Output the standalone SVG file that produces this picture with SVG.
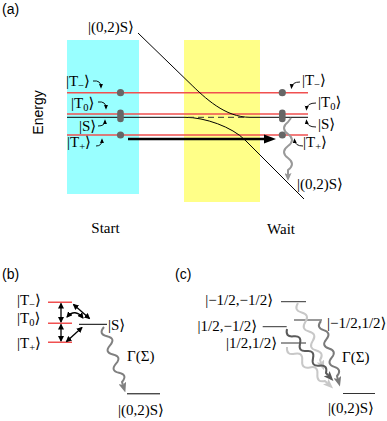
<svg xmlns="http://www.w3.org/2000/svg" width="387" height="421" viewBox="0 0 387 421">
<style>
.lbl{font-family:"Liberation Serif","DejaVu Serif",serif;font-size:15px;fill:#000}
.sans{font-family:"Liberation Sans",Arial,sans-serif;font-size:14px;fill:#000}
.sub{font-size:10.5px}
.red{stroke:#f05050;stroke-width:1.4;fill:none}
.blk{stroke:#000;stroke-width:1;fill:none}
.ptr{stroke:#000;stroke-width:0.9;fill:none;marker-end:url(#sm)}
.dbl{stroke:#000;stroke-width:1.3;fill:none;marker-start:url(#da);marker-end:url(#da)}
.dot{fill:#666}
.wave{fill:none;stroke-width:2;stroke-linejoin:round}
</style>
<defs>
<marker id="sm" markerUnits="userSpaceOnUse" markerWidth="5" markerHeight="5" viewBox="0 0 6 6" refX="4" refY="3" orient="auto"><path d="M0,0.5 L6,3 L0,5.5 z" fill="#000"/></marker>
<marker id="da" markerUnits="userSpaceOnUse" markerWidth="6" markerHeight="6" viewBox="0 0 6 6" refX="5" refY="3" orient="auto-start-reverse"><path d="M0,0 L6,3 L0,6 z" fill="#000"/></marker>
<marker id="wa" markerUnits="userSpaceOnUse" markerWidth="8" markerHeight="7" viewBox="0 0 8 7" refX="2" refY="3.5" orient="auto"><path d="M0,0 L8,3.5 L0,7 L1.5,3.5 z" fill="#999"/></marker>
<marker id="wb" markerUnits="userSpaceOnUse" markerWidth="10" markerHeight="8" viewBox="0 0 10 8" refX="2" refY="4" orient="auto"><path d="M0,0 L10,4 L0,8 L2,4 z" fill="#808080"/></marker>
<marker id="wl" markerUnits="userSpaceOnUse" markerWidth="10" markerHeight="8" viewBox="0 0 10 8" refX="2" refY="4" orient="auto"><path d="M0,0 L10,4 L0,8 L2,4 z" fill="#c8c8c8"/></marker>
<marker id="wm" markerUnits="userSpaceOnUse" markerWidth="10" markerHeight="8" viewBox="0 0 10 8" refX="2" refY="4" orient="auto"><path d="M0,0 L10,4 L0,8 L2,4 z" fill="#7a7a7a"/></marker>
<marker id="wd" markerUnits="userSpaceOnUse" markerWidth="10" markerHeight="8" viewBox="0 0 10 8" refX="2" refY="4" orient="auto"><path d="M0,0 L10,4 L0,8 L2,4 z" fill="#5a5a5a"/></marker>
</defs>
<rect width="387" height="421" fill="#fff"/>

<!-- panel (a) -->
<text class="sans" x="2" y="14" font-size="13">(a)</text>
<g id="start-region"><rect x="67" y="40" width="72" height="154" fill="#99ffff"/></g>
<g id="wait-region"><rect x="184" y="40" width="76" height="162" fill="#ffff88"/></g>
<text class="sans" font-size="15" text-anchor="middle" transform="translate(43,112.5) rotate(-90)">Energy</text>

<g id="connectors">
<path class="red" d="M67,92.7 H308 M67,114 H308 M67,135 H308"/>
<path class="blk" d="M67,117.3 L185,117.3 C205,117.3 232,127 245,140 L304,199"/>
<path class="blk" d="M138,33 L190,83.4 C205,98 225,117.3 250,117.3 L308,117.3"/>
<path d="M188,117.3 H248" stroke="#333" stroke-width="1" stroke-dasharray="6,4"/>
<path d="M128,139 H266" stroke="#000" stroke-width="2.6"/>
<path d="M264,134.5 L276,139 L264,143.5 z" fill="#000"/>
<path class="wave" stroke="#999" d="M291,118 L288,122 Q280,128 288,134 T288,146 T288,158 T288,170 L288,175" marker-end="url(#wa)"/>
<path class="ptr" d="M93,81 Q101,80 101,87"/>
<path class="ptr" d="M98,102 Q106,101 106,108"/>
<path class="ptr" d="M98,126 Q105,126 105,121"/>
<path class="ptr" d="M96,146 Q102,146 102,140"/>
<path class="ptr" d="M300,82 Q292,82 291.5,87.5"/>
<path class="ptr" d="M316,103 Q307,103 306.5,109"/>
<path class="ptr" d="M316,127 Q307,127 306.5,121"/>
<path class="ptr" d="M303,146 Q295,146 294.5,140"/>
</g>

<g id="dots-start">
<circle class="dot" cx="120.5" cy="92.7" r="3.6"/>
<rect class="dot" x="117.2" y="109.5" width="6.6" height="12.8" rx="3.3"/>
<circle class="dot" cx="120.5" cy="135" r="3.6"/>
</g>
<g id="dots-wait">
<circle class="dot" cx="282.3" cy="92.7" r="3.6"/>
<rect class="dot" x="279" y="109.5" width="6.6" height="12.8" rx="3.3"/>
<circle class="dot" cx="282.3" cy="135" r="3.6"/>
</g>

<g id="labels-a">
<text class="lbl" x="88" y="32">|(0,2)S⟩</text>
<text class="lbl" x="66" y="86">|T<tspan class="sub" dy="3">−</tspan><tspan dy="-3">⟩</tspan></text>
<text class="lbl" x="71" y="108">|T<tspan class="sub" dy="3">0</tspan><tspan dy="-3">⟩</tspan></text>
<text class="lbl" x="79" y="131">|S⟩</text>
<text class="lbl" x="67" y="147">|T<tspan class="sub" dy="3">+</tspan><tspan dy="-3">⟩</tspan></text>
<text class="lbl" x="302" y="85">|T<tspan class="sub" dy="3">−</tspan><tspan dy="-3">⟩</tspan></text>
<text class="lbl" x="318" y="107">|T<tspan class="sub" dy="3">0</tspan><tspan dy="-3">⟩</tspan></text>
<text class="lbl" x="318" y="128.5">|S⟩</text>
<text class="lbl" x="303" y="146.5">|T<tspan class="sub" dy="3">+</tspan><tspan dy="-3">⟩</tspan></text>
<text class="lbl" x="297" y="189">|(0,2)S⟩</text>
<text class="lbl" x="105.5" y="233" text-anchor="middle">Start</text>
<text class="lbl" x="281" y="234" text-anchor="middle">Wait</text>
</g>

<!-- panel (b) -->
<text class="sans" x="2" y="279" font-size="13">(b)</text>
<g id="levels-b">
<path class="red" d="M48,302.3 H72 M48,323.3 H72 M48,342.3 H72"/>
<path class="blk" d="M79,324.3 H107 M127,393.8 H160"/>
</g>
<g id="connectors-b">
<path class="dbl" d="M61,303.5 V322"/>
<path class="dbl" d="M61,324.5 V341"/>
<path class="dbl" d="M73.5,304.5 L89.5,318.5"/>
<path class="dbl" d="M67,317 Q75,308 83,318"/>
<path class="dbl" d="M66.5,341.5 L82,327.5"/>
<path class="wave" stroke="#808080" stroke-width="2.2" d="M104,327 Q97.9,334.07 107,336.17 T110,345.33 T113,354.5 T116,363.67 T119,372.83 T122,382 L122.9,384.8" marker-end="url(#wb)"/>
</g>
<g id="labels-b">
<text class="lbl" x="17" y="305">|T<tspan class="sub" dy="3">−</tspan><tspan dy="-3">⟩</tspan></text>
<text class="lbl" x="17" y="323">|T<tspan class="sub" dy="3">0</tspan><tspan dy="-3">⟩</tspan></text>
<text class="lbl" x="17" y="348">|T<tspan class="sub" dy="3">+</tspan><tspan dy="-3">⟩</tspan></text>
<text class="lbl" x="108" y="330">|S⟩</text>
<text class="lbl" x="127" y="361">Γ(Σ)</text>
<text class="lbl" x="118" y="415">|(0,2)S⟩</text>
</g>

<!-- panel (c) -->
<text class="sans" x="175" y="279" font-size="13">(c)</text>
<g id="levels-c">
<path d="M281,301.7 H306 M262.7,326.7 H286.7 M281,343 H306 M294,320 H322 M343,393.5 H375" stroke="#333" stroke-width="1" fill="none"/>
</g>
<g id="connectors-c">
<path class="wave" stroke="#c8c8c8" d="M298,303 Q293.3,310.27 301.67,312.5 T305.33,322 T309,331.5 T312.67,341 T316.33,350.5 T320,360 L321.1,362.8" marker-end="url(#wl)"/>
<path class="wave" stroke="#c8c8c8" d="M287,347 Q286.1,355.6 294.6,353.8 T302.2,360.6 T309.8,367.4 T317.4,374.2 T325,381 L327.2,383" marker-end="url(#wl)"/>
<path class="wave" stroke="#5a5a5a" d="M287,329 Q285,337.3 293.5,336.33 T300,343.67 T306.5,351 T313,358.33 T319.5,365.67 T326,373 L328,375.2" marker-end="url(#wd)"/>
<path class="wave" stroke="#7a7a7a" d="M321,321 Q315.6,327.5 323.67,330.17 T326.33,339.33 T329,348.5 T331.67,357.67 T334.33,366.83 T337,376 L337.8,378.9" marker-end="url(#wm)"/>
</g>
<g id="labels-c">
<text class="lbl" x="273" y="305" text-anchor="end">|−1/2,−1/2⟩</text>
<text class="lbl" x="257" y="331" text-anchor="end">|1/2,−1/2⟩</text>
<text class="lbl" x="277" y="348" text-anchor="end">|1/2,1/2⟩</text>
<text class="lbl" x="327" y="328">|−1/2,1/2⟩</text>
<text class="lbl" x="342" y="362">Γ(Σ)</text>
<text class="lbl" x="328" y="413">|(0,2)S⟩</text>
</g>
</svg>
